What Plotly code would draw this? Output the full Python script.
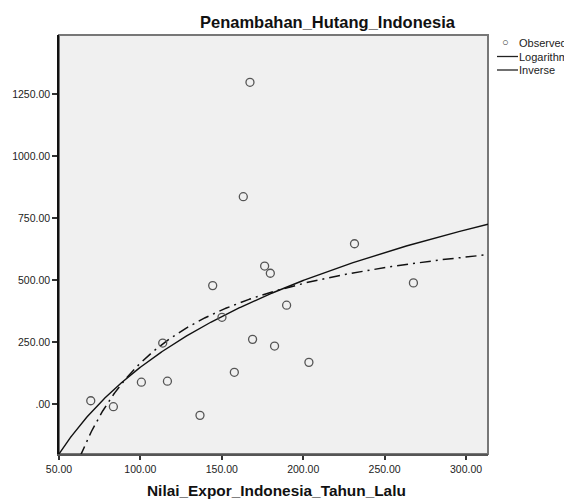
import numpy as np
import plotly.graph_objects as go

expor_lalu = [69.5, 83.4, 100.6, 116.6, 113.7, 136.6, 150.1, 157.7, 168.9, 182.4,
              189.8, 203.5, 163.2, 176.3, 179.8, 144.4, 167.3, 231.5, 267.7]
hutang = [13, -11, 88, 92, 246, -46, 350, 128, 261, 234,
          399, 168, 837, 557, 528, 478, 1299, 647, 489]

x_tick_vals = [50, 100, 150, 200, 250, 300]
x_tick_text = ["50.00", "100.00", "150.00", "200.00", "250.00", "300.00"]
y_tick_vals = [0, 250, 500, 750, 1000, 1250]
y_tick_text = [".00", "250.00", "500.00", "750.00", "1000.00", "1250.00"]

x_range = [50, 313.5]
y_range = [-202, 1490]

# Fitted model coefficients
log_b0, log_b1 = -2179.0, 505.4      # y = b0 + b1*ln(x)
inv_b0, inv_b1 = 808.0, -64258.0     # y = b0 + b1/x

xs = np.linspace(x_range[0], x_range[1], 500)
y_log = log_b0 + log_b1 * np.log(xs)
y_inv = inv_b0 + inv_b1 / xs

FONT = "Arial, 'Liberation Sans', sans-serif"

fig = go.Figure()
fig.add_trace(go.Scatter(x=xs, y=y_log, mode="lines",
                         line=dict(color="#111111", width=1.4), showlegend=False))
fig.add_trace(go.Scatter(x=xs, y=y_inv, mode="lines",
                         line=dict(color="#111111", width=1.5, dash="11px,5px,2px,5px"),
                         showlegend=False))
fig.add_trace(go.Scatter(x=expor_lalu, y=hutang, mode="markers",
                         marker=dict(symbol="circle-open", size=8, color="#555555",
                                     line=dict(color="#555555", width=1.3)),
                         showlegend=False))

# page body has an 8px margin: shrink the figure so the plot area sits where the reference's does
fig.update_layout(
    width=564, height=492,
    margin=dict(l=51, r=84, t=27, b=46, autoexpand=False),
    paper_bgcolor="white", plot_bgcolor="#F0F0F0",
    font=dict(family=FONT, size=10.5, color="#222222"),
    showlegend=False,
)
fig.update_xaxes(range=x_range, tickvals=x_tick_vals, ticktext=x_tick_text,
                 showgrid=False, zeroline=False, showline=True, linecolor="#555555",
                 linewidth=2, ticks="outside", ticklen=4, tickcolor="#333333",
                 tickwidth=1.5, tickfont=dict(size=10.5, color="#222222"),
                 automargin=False)
fig.update_yaxes(range=y_range, tickvals=y_tick_vals, ticktext=y_tick_text,
                 showgrid=False, zeroline=False, showline=True, linecolor="#111111",
                 linewidth=1.5, ticks="outside", ticklen=5, tickcolor="#333333",
                 tickwidth=1.5, tickfont=dict(size=10.5, color="#222222"),
                 automargin=False)

# frame (top and right edges)
fig.add_shape(type="rect", xref="paper", yref="paper", x0=0, x1=1, y0=0, y1=1,
              line=dict(color="#777777", width=2), layer="below")

# plot area in absolute page pixels
PL, PR, PT, PB = 59, 488, 35, 454

def px_x(p):
    return (p - PL) / float(PR - PL)

def px_y(p):
    return 1 - (p - PT) / float(PB - PT)

# Title and axis title
fig.add_annotation(text="<b>Penambahan_Hutang_Indonesia</b>", xref="paper", yref="paper",
                   x=px_x(327.5), y=px_y(22), xanchor="center", yanchor="middle",
                   showarrow=False, font=dict(size=16.5, color="#111111", family=FONT))
fig.add_annotation(text="<b>Nilai_Expor_Indonesia_Tahun_Lalu</b>", xref="paper", yref="paper",
                   x=px_x(276), y=px_y(490), xanchor="center", yanchor="middle",
                   showarrow=False, font=dict(size=15.4, color="#111111", family=FONT))

# Legend (manual)
legend_items = ["Observed", "Logarithmic", "Inverse"]
legend_y = [43, 56.5, 70]
fig.add_annotation(text="○", xref="paper", yref="paper", x=px_x(505), y=px_y(42.5),
                   xanchor="center", yanchor="middle", showarrow=False,
                   font=dict(size=11, color="#333333"))
for name, yy in zip(legend_items, legend_y):
    fig.add_annotation(text=name, xref="paper", yref="paper", x=px_x(517), y=px_y(yy),
                       xanchor="left", yanchor="middle", showarrow=False,
                       font=dict(size=11, color="#222222", family=FONT))
for yy in legend_y[1:]:
    fig.add_shape(type="line", xref="paper", yref="paper", x0=px_x(497), x1=px_x(518),
                  y0=px_y(yy), y1=px_y(yy), line=dict(color="#222222", width=1.3))

fig.write_html("out.html")
